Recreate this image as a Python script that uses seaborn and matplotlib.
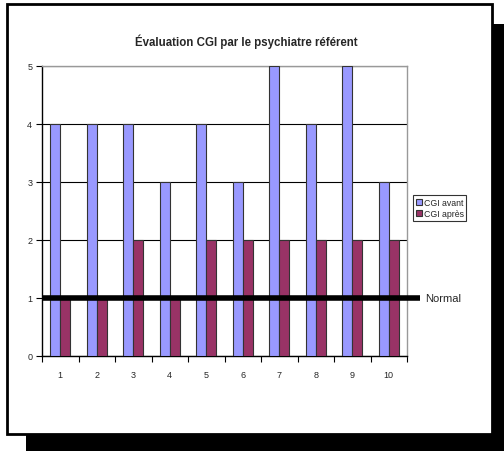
import matplotlib
matplotlib.use("Agg")
import matplotlib.pyplot as plt
from matplotlib.patches import Rectangle
import seaborn as sns
import pandas as pd

patients = ["1", "2", "3", "4", "5", "6", "7", "8", "9", "10"]
cgi_avant = [4, 4, 4, 3, 4, 3, 5, 4, 5, 3]
cgi_apres = [1, 1, 2, 1, 2, 2, 2, 2, 2, 2]
series = ["CGI avant", "CGI après"]
normal_level = 1

df = pd.DataFrame({
    "patient": patients * 2,
    "score": cgi_avant + cgi_apres,
    "serie": [series[0]] * len(patients) + [series[1]] * len(patients),
})

sns.set_theme(style="white")
plt.rcParams["font.family"] = ["Liberation Sans", "DejaVu Sans"]

fig = plt.figure(figsize=(5.04, 4.52), dpi=100)
W, H = 504, 452

# drop shadow and framed page
fig.patches.append(Rectangle((26 / W, 0), 478 / W, (H - 25) / H,
                             transform=fig.transFigure, facecolor="black",
                             edgecolor="none", zorder=0))
fig.patches.append(Rectangle((7 / W, 1 - 435 / H), 485 / W, 430 / H,
                             transform=fig.transFigure, facecolor="white",
                             edgecolor="black", linewidth=2, zorder=1))

ax = fig.add_axes([42 / W, 1 - 357 / H, 365 / W, 290 / H])
ax.set_zorder(2)
ax.patch.set_facecolor("white")

sns.barplot(data=df, x="patient", y="score", hue="serie", order=patients,
            hue_order=series, palette=["#9999FF", "#993366"], saturation=1,
            width=0.55, gap=0, edgecolor="#333333", linewidth=0.8, ax=ax,
            legend=True, zorder=3)

ax.set_xlim(-0.5, len(patients) - 0.5)
ax.set_ylim(0, 5)
ax.set_yticks(range(0, 6))
ax.yaxis.grid(True, color="black", linewidth=0.8)
ax.set_axisbelow(True)
ax.set_xlabel("")
ax.set_ylabel("")

for side in ["top", "right"]:
    ax.spines[side].set_color("#999999")
    ax.spines[side].set_linewidth(1)
for side in ["left", "bottom"]:
    ax.spines[side].set_color("black")
    ax.spines[side].set_linewidth(1)

ax.tick_params(axis="y", which="major", length=4, width=0.8, color="black",
               direction="out", left=True, labelsize=6.5, pad=3)
ax.tick_params(axis="x", which="major", length=0, labelsize=6.5, pad=10)
ax.set_xticks([i - 0.5 for i in range(len(patients) + 1)], minor=True)
ax.tick_params(axis="x", which="minor", length=4, width=0.8, color="black",
               direction="out", bottom=True)

# reference line for the normal score
ax.plot([-0.5, len(patients) - 0.5 + 0.35], [normal_level, normal_level],
        color="black", linewidth=4, clip_on=False, zorder=5,
        solid_capstyle="butt")
ax.text(len(patients) - 0.5 + 0.5, normal_level, "Normal", fontsize=8,
        va="center", ha="left", clip_on=False)

fig.text(246 / W, 1 - 42 / H, "Évaluation CGI par le psychiatre référent",
         fontsize=8.3, fontweight="bold", ha="center", va="center", zorder=3)

leg = ax.legend(loc="upper left", bbox_to_anchor=(413 / W, 1 - 196 / H),
                bbox_transform=fig.transFigure, fontsize=6.3, frameon=True,
                fancybox=False, handlelength=0.7, handleheight=0.7,
                handletextpad=0.2, borderpad=0.3, labelspacing=0.3,
                borderaxespad=0)
leg.get_frame().set_edgecolor("black")
leg.get_frame().set_linewidth(0.8)

fig.savefig("out.png", dpi=100)
